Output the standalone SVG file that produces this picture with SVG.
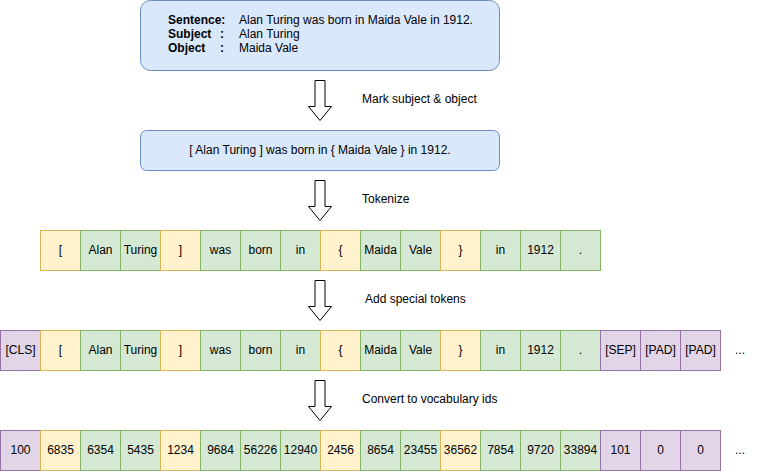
<svg xmlns="http://www.w3.org/2000/svg" width="761" height="471" viewBox="0 0 761 471">
<style>
text{font-family:"Liberation Sans",Arial,sans-serif;font-size:12px;fill:#000}
.c{text-anchor:middle}
.b{font-weight:bold}
.box{fill:#dae8fc;stroke:#6c8ebf;stroke-width:1}
.y{fill:#fff2cc;stroke:#d6b656}
.g{fill:#d5e8d4;stroke:#82b366}
.p{fill:#e1d5e7;stroke:#9673a6}
.arr{fill:#fff;stroke:#000;stroke-width:1}
</style>
<defs>
<path id="ba" d="M315,0 H325 V26 H331.5 L320,40 L308.5,26 H315 Z"/>
</defs>
<rect width="761" height="471" fill="#fff"/>
<g id="input">
<rect class="box" x="140.5" y="0.5" width="359" height="70" rx="10"/>
<text class="b" x="168" y="23.5">Sentence:</text>
<text x="239" y="23.5">Alan Turing was born in Maida Vale in 1912.</text>
<text class="b" x="168" y="38">Subject</text>
<text class="b" x="220" y="38">:</text>
<text x="239" y="38">Alan Turing</text>
<text class="b" x="168" y="52">Object</text>
<text class="b" x="220" y="52">:</text>
<text x="239" y="52">Maida Vale</text>
</g>
<g id="marked">
<rect class="box" x="140.5" y="130.5" width="359" height="40" rx="6"/>
<text class="c" x="320" y="154">[ Alan Turing ] was born in { Maida Vale } in 1912.</text>
</g>
<g id="connectors">
<use href="#ba" class="arr" transform="translate(0,80.5)"/>
<use href="#ba" class="arr" transform="translate(0,180.5)"/>
<use href="#ba" class="arr" transform="translate(0,280.5)"/>
<use href="#ba" class="arr" transform="translate(0,380.5)"/>
<text x="362" y="103">Mark subject &amp; object</text>
<text x="362" y="203">Tokenize</text>
<text x="365" y="303">Add special tokens</text>
<text x="362" y="403">Convert to vocabulary ids</text>
</g>
<g id="tokens">
<rect class="y" x="40.5" y="230.5" width="40" height="40"/><text class="c" x="60.5" y="253.5">[</text>
<rect class="g" x="80.5" y="230.5" width="40" height="40"/><text class="c" x="100.5" y="253.5">Alan</text>
<rect class="g" x="120.5" y="230.5" width="40" height="40"/><text class="c" x="140.5" y="253.5">Turing</text>
<rect class="y" x="160.5" y="230.5" width="40" height="40"/><text class="c" x="180.5" y="253.5">]</text>
<rect class="g" x="200.5" y="230.5" width="40" height="40"/><text class="c" x="220.5" y="253.5">was</text>
<rect class="g" x="240.5" y="230.5" width="40" height="40"/><text class="c" x="260.5" y="253.5">born</text>
<rect class="g" x="280.5" y="230.5" width="40" height="40"/><text class="c" x="300.5" y="253.5">in</text>
<rect class="y" x="320.5" y="230.5" width="40" height="40"/><text class="c" x="340.5" y="253.5">{</text>
<rect class="g" x="360.5" y="230.5" width="40" height="40"/><text class="c" x="380.5" y="253.5">Maida</text>
<rect class="g" x="400.5" y="230.5" width="40" height="40"/><text class="c" x="420.5" y="253.5">Vale</text>
<rect class="y" x="440.5" y="230.5" width="40" height="40"/><text class="c" x="460.5" y="253.5">}</text>
<rect class="g" x="480.5" y="230.5" width="40" height="40"/><text class="c" x="500.5" y="253.5">in</text>
<rect class="g" x="520.5" y="230.5" width="40" height="40"/><text class="c" x="540.5" y="253.5">1912</text>
<rect class="g" x="560.5" y="230.5" width="40" height="40"/><text class="c" x="580.5" y="253.5">.</text>
</g>
<g id="special">
<rect class="p" x="0.5" y="330.5" width="40" height="40"/><text class="c" x="20.5" y="353.5">[CLS]</text>
<rect class="y" x="40.5" y="330.5" width="40" height="40"/><text class="c" x="60.5" y="353.5">[</text>
<rect class="g" x="80.5" y="330.5" width="40" height="40"/><text class="c" x="100.5" y="353.5">Alan</text>
<rect class="g" x="120.5" y="330.5" width="40" height="40"/><text class="c" x="140.5" y="353.5">Turing</text>
<rect class="y" x="160.5" y="330.5" width="40" height="40"/><text class="c" x="180.5" y="353.5">]</text>
<rect class="g" x="200.5" y="330.5" width="40" height="40"/><text class="c" x="220.5" y="353.5">was</text>
<rect class="g" x="240.5" y="330.5" width="40" height="40"/><text class="c" x="260.5" y="353.5">born</text>
<rect class="g" x="280.5" y="330.5" width="40" height="40"/><text class="c" x="300.5" y="353.5">in</text>
<rect class="y" x="320.5" y="330.5" width="40" height="40"/><text class="c" x="340.5" y="353.5">{</text>
<rect class="g" x="360.5" y="330.5" width="40" height="40"/><text class="c" x="380.5" y="353.5">Maida</text>
<rect class="g" x="400.5" y="330.5" width="40" height="40"/><text class="c" x="420.5" y="353.5">Vale</text>
<rect class="y" x="440.5" y="330.5" width="40" height="40"/><text class="c" x="460.5" y="353.5">}</text>
<rect class="g" x="480.5" y="330.5" width="40" height="40"/><text class="c" x="500.5" y="353.5">in</text>
<rect class="g" x="520.5" y="330.5" width="40" height="40"/><text class="c" x="540.5" y="353.5">1912</text>
<rect class="g" x="560.5" y="330.5" width="40" height="40"/><text class="c" x="580.5" y="353.5">.</text>
<rect class="p" x="600.5" y="330.5" width="40" height="40"/><text class="c" x="620.5" y="353.5">[SEP]</text>
<rect class="p" x="640.5" y="330.5" width="40" height="40"/><text class="c" x="660.5" y="353.5">[PAD]</text>
<rect class="p" x="680.5" y="330.5" width="40" height="40"/><text class="c" x="700.5" y="353.5">[PAD]</text>
<text class="c" x="740" y="353.5">...</text>
</g>
<g id="ids">
<rect class="p" x="0.5" y="430.5" width="40" height="40"/><text class="c" x="20.5" y="453.5">100</text>
<rect class="y" x="40.5" y="430.5" width="40" height="40"/><text class="c" x="60.5" y="453.5">6835</text>
<rect class="g" x="80.5" y="430.5" width="40" height="40"/><text class="c" x="100.5" y="453.5">6354</text>
<rect class="g" x="120.5" y="430.5" width="40" height="40"/><text class="c" x="140.5" y="453.5">5435</text>
<rect class="y" x="160.5" y="430.5" width="40" height="40"/><text class="c" x="180.5" y="453.5">1234</text>
<rect class="g" x="200.5" y="430.5" width="40" height="40"/><text class="c" x="220.5" y="453.5">9684</text>
<rect class="g" x="240.5" y="430.5" width="40" height="40"/><text class="c" x="260.5" y="453.5">56226</text>
<rect class="g" x="280.5" y="430.5" width="40" height="40"/><text class="c" x="300.5" y="453.5">12940</text>
<rect class="y" x="320.5" y="430.5" width="40" height="40"/><text class="c" x="340.5" y="453.5">2456</text>
<rect class="g" x="360.5" y="430.5" width="40" height="40"/><text class="c" x="380.5" y="453.5">8654</text>
<rect class="g" x="400.5" y="430.5" width="40" height="40"/><text class="c" x="420.5" y="453.5">23455</text>
<rect class="y" x="440.5" y="430.5" width="40" height="40"/><text class="c" x="460.5" y="453.5">36562</text>
<rect class="g" x="480.5" y="430.5" width="40" height="40"/><text class="c" x="500.5" y="453.5">7854</text>
<rect class="g" x="520.5" y="430.5" width="40" height="40"/><text class="c" x="540.5" y="453.5">9720</text>
<rect class="g" x="560.5" y="430.5" width="40" height="40"/><text class="c" x="580.5" y="453.5">33894</text>
<rect class="p" x="600.5" y="430.5" width="40" height="40"/><text class="c" x="620.5" y="453.5">101</text>
<rect class="p" x="640.5" y="430.5" width="40" height="40"/><text class="c" x="660.5" y="453.5">0</text>
<rect class="p" x="680.5" y="430.5" width="40" height="40"/><text class="c" x="700.5" y="453.5">0</text>
<text class="c" x="740" y="453.5">...</text>
</g>
</svg>
